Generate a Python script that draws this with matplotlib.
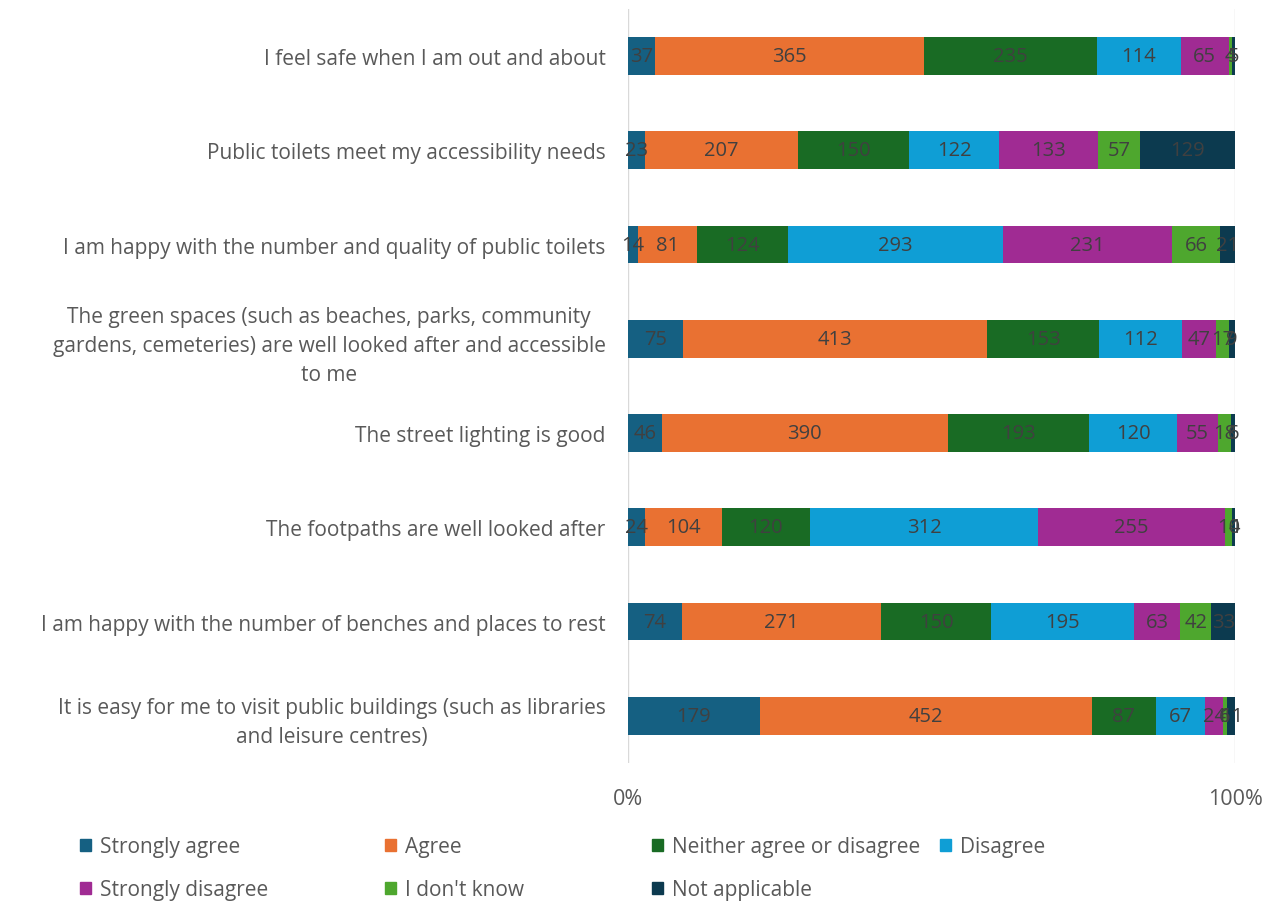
import numpy as np
import matplotlib.pyplot as plt
from matplotlib.patches import Patch

plt.rcParams['font.family'] = ['Open Sans', 'DejaVu Sans']

# Survey statements (top to bottom)
statements = [
    "I feel safe when I am out and about",
    "Public toilets meet my accessibility needs",
    "I am happy with the number and quality of public toilets",
    "The green spaces (such as beaches, parks, community\ngardens, cemeteries) are well looked after and accessible\nto me",
    "The street lighting is good",
    "The footpaths are well looked after",
    "I am happy with the number of benches and places to rest",
    "It is easy for me to visit public buildings (such as libraries\nand leisure centres)",
]

responses = ["Strongly agree", "Agree", "Neither agree or disagree", "Disagree",
             "Strongly disagree", "I don't know", "Not applicable"]
colors = ["#156082", "#E97132", "#196B24", "#0F9ED5", "#A02B93", "#4EA72E", "#0C3A4F"]

strongly_agree = [37, 23, 14, 75, 46, 24, 74, 179]
agree = [365, 207, 81, 413, 390, 104, 271, 452]
neither = [235, 150, 124, 153, 193, 120, 150, 87]
disagree = [114, 122, 293, 112, 120, 312, 195, 67]
strongly_disagree = [65, 133, 231, 47, 55, 255, 63, 24]
dont_know = [4, 57, 66, 17, 18, 10, 42, 6]
not_applicable = [5, 129, 21, 9, 6, 4, 33, 11]

series = [strongly_agree, agree, neither, disagree, strongly_disagree, dont_know, not_applicable]
counts = np.array(series, dtype=float)
shares = counts / counts.sum(axis=0)

fig = plt.figure(figsize=(12.71, 9.03), dpi=100)
ax = fig.add_axes([0.494, 0.154, 0.478, 0.835])

y = np.arange(len(statements))
left = np.zeros(len(statements))
for i, name in enumerate(responses):
    ax.barh(y, shares[i], left=left, height=0.4, color=colors[i], label=name, zorder=3)
    for j in range(len(statements)):
        ax.text(left[j] + shares[i][j] / 2, y[j], f"{int(counts[i][j])}",
                ha='center', va='center', fontsize=14.5, color='#404040', zorder=4)
    left += shares[i]

ax.set_ylim(len(statements) - 0.5, -0.5)
ax.set_xlim(0, 1)
ax.set_xticks([0, 1])
ax.set_xticklabels(["0%", "100%"])
ax.set_yticks(y)
ax.set_yticklabels(statements, fontsize=15, color='#595959', multialignment='center',
                   linespacing=1.5)
ax.tick_params(axis='y', length=0, pad=16)
ax.tick_params(axis='x', length=0, pad=18, labelsize=15.5, colors='#595959')
ax.grid(axis='x', color='#D9D9D9', linewidth=1, zorder=0)
for s in ax.spines.values():
    s.set_visible(False)

# legend entries placed like the original layout
legend_pos = [(80, 848), (385, 848), (652, 848), (940, 848), (80, 891), (385, 891), (652, 891)]
W, H = 1271, 903
for (px, py), name, c in zip(legend_pos, responses, colors):
    fig.legend(handles=[Patch(color=c, label=name)], loc='center left',
               bbox_to_anchor=(px / W, 1 - py / H), frameon=False, fontsize=15,
               labelcolor='#595959', handlelength=0.55, handleheight=0.55,
               handletextpad=0.4, borderpad=0, borderaxespad=0)

fig.savefig("out.png", dpi=100)
